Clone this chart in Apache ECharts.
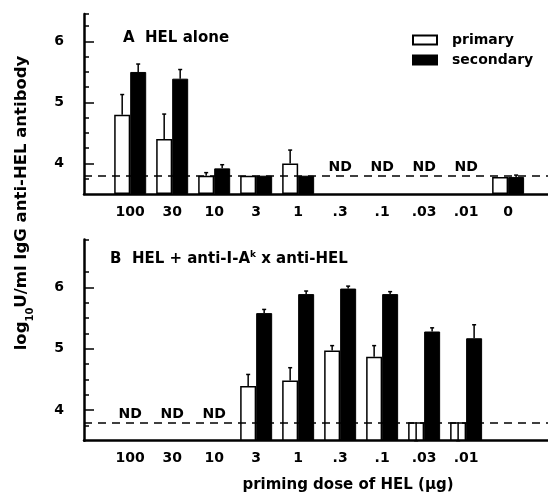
<!DOCTYPE html>
<html>
<head>
<meta charset="utf-8">
<script src="https://cdn.jsdelivr.net/npm/echarts@6/dist/echarts.min.js"></script>
<style>
html,body{margin:0;padding:0;background:#fff;}
#chart{width:548px;height:493px;}
</style>
</head>
<body>
<div id="chart"></div>
<script>
// ---------- data ----------
const categories = ['100', '30', '10', '3', '1', '.3', '.1', '.03', '.01', '0'];
const categoriesB = ['100', '30', '10', '3', '1', '.3', '.1', '.03', '.01'];

// Panel A: HEL alone
const primaryA      = [4.80, 4.40, 3.80, 3.80, 4.00, null, null, null, null, 3.78];
const primaryAErr   = [0.33, 0.41, 0.05, 0,    0.22, null, null, null, null, 0];
const secondaryA    = [5.50, 5.39, 3.92, 3.80, 3.80, null, null, null, null, 3.78];
const secondaryAErr = [0.13, 0.15, 0.06, 0,    0,    null, null, null, null, 0.03];
const notDetectedA  = ['.3', '.1', '.03', '.01'];

// Panel B: HEL + anti-I-A^k x anti-HEL
const primaryB      = [null, null, null, 4.39, 4.48, 4.97, 4.87, 3.80, 3.80];
const primaryBErr   = [null, null, null, 0.19, 0.21, 0.08, 0.18, -0.30, -0.30];
const secondaryB    = [null, null, null, 5.58, 5.89, 5.98, 5.89, 5.28, 5.17];
const secondaryBErr = [null, null, null, 0.06, 0.05, 0.04, 0.04, 0.06, 0.22];
const notDetectedB  = ['100', '30', '10'];

const detectionLimit = 3.8;
const yLabelsMajor = [4, 5, 6];
const yTicksMinorA = [3.75, 4.25, 4.5, 4.75, 5.25, 5.5, 5.75, 6.25, 6.45];
const yTicksMinorB = [3.75, 4.25, 4.5, 4.75, 5.25, 5.5, 5.75, 6.25, 6.78];

// ---------- helpers ----------
const FONT = 'DejaVu Sans';
const BAR_W = 16;
function toPairs(arr) { return arr.map((v, i) => v == null ? [i, null] : [i, v]); }
function toErr(vals, errs) {
  const out = [];
  vals.forEach((v, i) => { if (v != null && errs[i]) out.push([i, v, v + errs[i]]); });
  return out;
}
function ndData(list) { return list.map(c => [categories.indexOf(c), detectionLimit]); }

function errSeries(data, xIdx, yIdx, side) {
  return {
    type: 'custom', xAxisIndex: xIdx, yAxisIndex: yIdx, data: data, silent: true, z: 5,
    renderItem: function (params, api) {
      const p1 = api.coord([api.value(0), api.value(1)]);
      const p2 = api.coord([api.value(0), api.value(2)]);
      const x = p1[0] + side * BAR_W / 2;
      return {
        type: 'group', children: [
          { type: 'line', shape: { x1: x, y1: p1[1], x2: x, y2: p2[1] }, style: { stroke: '#000', lineWidth: 1.5 } },
          { type: 'line', shape: { x1: x - 2, y1: p2[1], x2: x + 2, y2: p2[1] }, style: { stroke: '#000', lineWidth: 1.5 } }
        ]
      };
    }
  };
}
function ndSeries(data, idx) {
  return {
    type: 'custom', xAxisIndex: idx, yAxisIndex: idx, data: data, silent: true, z: 6,
    renderItem: function (params, api) {
      const p = api.coord([api.value(0), api.value(1)]);
      return {
        type: 'text', x: p[0], y: p[1] - 1,
        style: { text: 'ND', fill: '#000', font: 'bold 14px "DejaVu Sans"', textAlign: 'center', align: 'center', textVerticalAlign: 'bottom', verticalAlign: 'bottom' }
      };
    }
  };
}

function xAxisDef(gridIndex, labels) {
  return {
    type: 'value', gridIndex: gridIndex, min: -1.1, max: 9.95,
    axisLine: { show: true, onZero: false, lineStyle: { color: '#000', width: 2.5 } },
    axisTick: { show: false },
    splitLine: { show: false },
    axisLabel: {
      customValues: labels.map((c, i) => i),
      formatter: v => labels[Math.round(v)] || '',
      color: '#000', fontFamily: FONT, fontWeight: 'bold', fontSize: 14, margin: 11
    }
  };
}
function yAxisDef(gridIndex, max, minorTicks) {
  return {
    type: 'value', gridIndex: gridIndex, min: 3.5, max: max, startValue: 3.5, position: 'left',
    axisLine: { show: true, onZero: false, lineStyle: { color: '#000', width: 2.5 } },
    axisTick: { show: true, inside: true, length: 5, customValues: minorTicks, lineStyle: { color: '#000', width: 1.5 } },
    splitLine: { show: false },
    axisLabel: { customValues: yLabelsMajor, color: '#000', fontFamily: FONT, fontWeight: 'bold', fontSize: 14, margin: 20 }
  };
}
function yAxisMajor(gridIndex, max) {
  return {
    type: 'value', gridIndex: gridIndex, min: 3.5, max: max, position: 'left', offset: 0,
    axisLine: { show: false, onZero: false },
    axisTick: { show: true, inside: true, length: 10, customValues: yLabelsMajor, lineStyle: { color: '#000', width: 1.5 } },
    splitLine: { show: false },
    axisLabel: { show: false }
  };
}

const dashed = {
  silent: true, symbol: ['none', 'none'], label: { show: false },
  lineStyle: { color: '#000', type: [8, 6], width: 1.5 },
  data: [{ yAxis: detectionLimit }]
};
const primaryStyle = { color: '#fff', borderColor: '#000', borderWidth: 1.5 };
const secondaryStyle = { color: '#000', borderColor: '#000', borderWidth: 1 };

const chart = echarts.init(document.getElementById('chart'), null, { renderer: 'canvas' });
chart.setOption({
  backgroundColor: '#fff',
  animation: false,
  textStyle: { fontFamily: FONT },
  grid: [
    { left: 84, right: 0, top: 14, height: 180 },
    { left: 84, right: 0, top: 239.5, height: 201.2 }
  ],
  legend: {
    orient: 'vertical', left: 407, top: 27, itemWidth: 24, itemHeight: 9, itemGap: 4,
    selectedMode: false, icon: 'rect',
    data: ['primary', 'secondary'],
    textStyle: { color: '#000', fontFamily: FONT, fontWeight: 'bold', fontSize: 14, lineHeight: 16, padding: [0, 0, 0, 10] }
  },
  xAxis: [xAxisDef(0, categories), xAxisDef(1, categoriesB)],
  yAxis: [yAxisDef(0, 6.45, yTicksMinorA), yAxisDef(1, 6.78, yTicksMinorB), yAxisMajor(0, 6.45), yAxisMajor(1, 6.78)],
  graphic: [
    { type: 'text', x: 123, y: 38, style: { text: 'A  HEL alone', font: 'bold 15px "DejaVu Sans"', fill: '#000', textVerticalAlign: 'middle', verticalAlign: 'middle' } },
    { type: 'text', x: 110, y: 259, style: {
        text: 'B  HEL + anti-I-A{sup|k} x anti-HEL', font: 'bold 15px "DejaVu Sans"', fill: '#000',
        textVerticalAlign: 'middle', verticalAlign: 'middle',
        rich: { sup: { fontSize: 9, fontWeight: 'bold', fontFamily: FONT, fill: '#000', verticalAlign: 'top', padding: [0, 0, 8, 0] } }
      } },
    { type: 'text', x: 22, y: 203, rotation: Math.PI / 2, style: {
        text: 'log{sub|10}U/ml IgG anti-HEL antibody', font: 'bold 16.5px "DejaVu Sans"', fill: '#000',
        textAlign: 'center', align: 'center', textVerticalAlign: 'middle', verticalAlign: 'middle',
        rich: { sub: { fontSize: 10, fontWeight: 'bold', fontFamily: FONT, fill: '#000', lineHeight: 26, verticalAlign: 'bottom' } }
      } },
    { type: 'text', x: 348, y: 485, style: { text: 'priming dose of HEL (\u03bcg)', font: 'bold 15px "DejaVu Sans"', fill: '#000', textAlign: 'center', align: 'center', textVerticalAlign: 'middle', verticalAlign: 'middle' } }
  ],
  series: [
    { name: 'primary', type: 'bar', xAxisIndex: 0, yAxisIndex: 0, data: toPairs(primaryA), barWidth: BAR_W, barGap: '0%', itemStyle: primaryStyle, markLine: dashed, z: 2 },
    { name: 'secondary', type: 'bar', xAxisIndex: 0, yAxisIndex: 0, data: toPairs(secondaryA), barWidth: BAR_W, barGap: '0%', itemStyle: secondaryStyle, z: 2 },
    { name: 'primary', type: 'bar', xAxisIndex: 1, yAxisIndex: 1, data: toPairs(primaryB), barWidth: BAR_W, barGap: '0%', itemStyle: primaryStyle, markLine: dashed, z: 2 },
    { name: 'secondary', type: 'bar', xAxisIndex: 1, yAxisIndex: 1, data: toPairs(secondaryB), barWidth: BAR_W, barGap: '0%', itemStyle: secondaryStyle, z: 2 },
    errSeries(toErr(primaryA, primaryAErr), 0, 0, -1),
    errSeries(toErr(secondaryA, secondaryAErr), 0, 0, 1),
    errSeries(toErr(primaryB, primaryBErr), 1, 1, -1),
    errSeries(toErr(secondaryB, secondaryBErr), 1, 1, 1),
    ndSeries(ndData(notDetectedA), 0),
    ndSeries(ndData(notDetectedB), 1)
  ]
});
</script>
</body>
</html>
